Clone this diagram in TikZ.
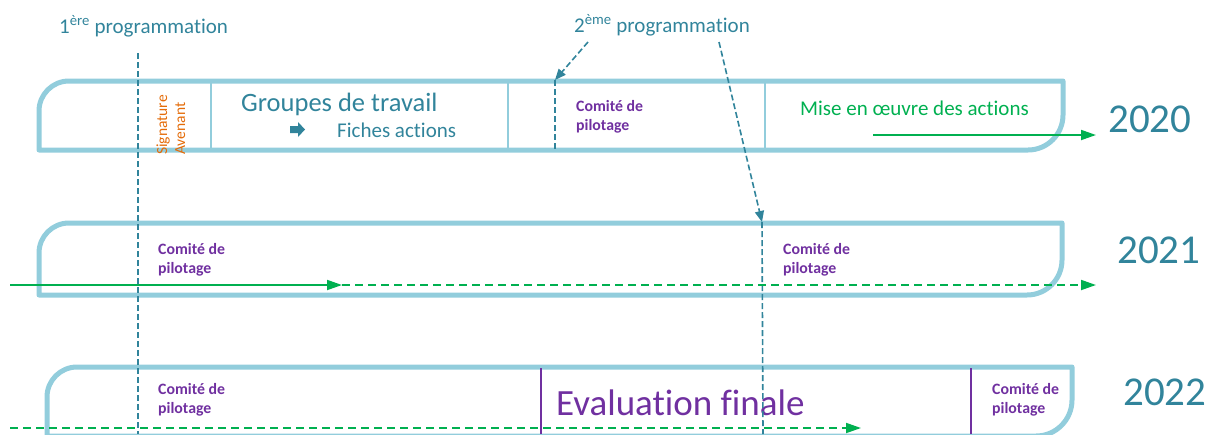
\documentclass[tikz,border=0pt]{standalone}
\usepackage{fontspec}
\setmainfont{Carlito}[Ligatures=NoCommon]
\usetikzlibrary{arrows.meta}
\definecolor{tealtxt}{HTML}{31849B}
\definecolor{boxblue}{HTML}{92CDDC}
\definecolor{orangetxt}{HTML}{E46C0A}
\definecolor{purpletxt}{HTML}{7030A0}
\definecolor{greenline}{HTML}{00B050}
\begin{document}
\begin{tikzpicture}[x=1pt,y=-1pt,
  lbl/.style={inner sep=0pt, anchor=base west},
  yearbox/.style={draw=boxblue, line width=5pt, line join=round},
  divider/.style={draw=boxblue, line width=2.5pt},
  progline/.style={draw=tealtxt, line width=1.6pt, dash pattern=on 6pt off 3pt},
  progarrow/.style={progline, -{Triangle[length=11pt,width=9pt]}},
  greenarrow/.style={draw=greenline, line width=1.8pt, -{Triangle[length=15pt,width=10pt]}},
  greendash/.style={greenarrow, dash pattern=on 8pt off 5pt},
  evalline/.style={draw=purpletxt, line width=2.5pt},
  comite/.style={lbl, font=\fontsize{15.8}{19}\selectfont\bfseries, text=purpletxt, align=left},
  yeartxt/.style={lbl, font=\fontsize{41}{49}\selectfont, text=tealtxt},
  progtxt/.style={lbl, font=\fontsize{21}{25}\selectfont, text=tealtxt},
  signtxt/.style={lbl, rotate=90, font=\fontsize{15.5}{19}\selectfont, text=orangetxt}
]
\useasboundingbox (0,0) rectangle (1209,434);
\clip (0,0) rectangle (1209,434);

% ---- boxes
\draw[yearbox] (39,150) -- (39,111) arc[start angle=180,end angle=270,radius=30]
  -- (1063,81) -- (1063,115) arc[start angle=0,end angle=90,radius=35] -- cycle;
\draw[yearbox] (39,295) -- (39,253) arc[start angle=180,end angle=270,radius=30]
  -- (1062,223) -- (1062,260) arc[start angle=0,end angle=90,radius=35] -- cycle;
\draw[yearbox] (47,445) -- (47,397) arc[start angle=180,end angle=270,radius=30]
  -- (1072,367) -- (1072,400) arc[start angle=0,end angle=90,radius=36] -- (47,436);

% ---- dividers row 1
\draw[divider] (211,82) -- (211,149);
\draw[divider] (508,82) -- (508,149);
\draw[divider] (765,82) -- (765,149);

% ---- purple lines row 3
\draw[evalline] (541,368) -- (541,434);
\draw[evalline] (971,368) -- (971,434);

% ---- texts
\node[progtxt] (prog1) at (59,33) {1\textsuperscript{ère} programmation};
\node[progtxt] (prog2) at (574,32) {2\textsuperscript{ème} programmation};

\node[signtxt] (sign) at (167,155) {Signature};
\node[signtxt] (aven) at (185,155) {Avenant};

\node[lbl, font=\fontsize{26.5}{32}\selectfont, text=tealtxt] (groupes) at (241,111) {Groupes de travail};
\fill[tealtxt] (290,126) -- (298,126) -- (298,122) -- (305,129.5) -- (298,137) -- (298,133) -- (290,133) -- cycle;
\node[lbl, font=\fontsize{21}{25}\selectfont, text=tealtxt] (fiches) at (337,137) {Fiches actions};

\node[comite] (cp1) at (576,130) {Comité de\\pilotage};
\node[lbl, font=\fontsize{21}{25}\selectfont, text=greenline] (mise) at (800,115) {Mise en œuvre des actions};

\node[comite] (cp2a) at (158,273) {Comité de\\pilotage};
\node[comite] (cp2b) at (783,273) {Comité de\\pilotage};

\node[comite] (cp3a) at (158,413) {Comité de\\pilotage};
\node[lbl, font=\fontsize{37}{44}\selectfont, text=purpletxt] (evalf) at (556,415) {Evaluation finale};
\node[comite] (cp3b) at (992,413) {Comité de\\pilotage};

\node[yeartxt] (y2020) at (1108,132) {2020};
\node[yeartxt] (y2021) at (1117,263) {2021};
\node[yeartxt] (y2022) at (1123,405) {2022};

% ---- programmation lines
\coordinate (p1a) at (138,53);
\coordinate (p1b) at (138,434);
\coordinate (p2a) at (588,42);
\coordinate (c1) at (555,80);
\coordinate (c1b) at (555,150);
\coordinate (p2b) at (719,42);
\coordinate (c2) at (762,222);
\coordinate (c2b) at (763,434);
\draw[progline] (p1a) -- (p1b);
\draw[progarrow] (p2a) -- (c1);
\draw[progline] (c1) -- (c1b);
\draw[progarrow] (p2b) -- (c2);
\draw[progline] (c2) -- (c2b);

% ---- green arrows
\coordinate (g1a) at (873,135);
\coordinate (g1b) at (1096,135);
\draw[greenarrow] (g1a) -- (g1b);
\coordinate (g2a) at (10,285);
\coordinate (g2m) at (342,285);
\coordinate (g2b) at (1096,285);
\draw[greenarrow] (g2a) -- (g2m);
\draw[greendash] (g2m) -- (g2b);
\coordinate (g3a) at (10,428);
\coordinate (g3b) at (861,428);
\draw[greendash] (g3a) -- (g3b);
\end{tikzpicture}
\end{document}
